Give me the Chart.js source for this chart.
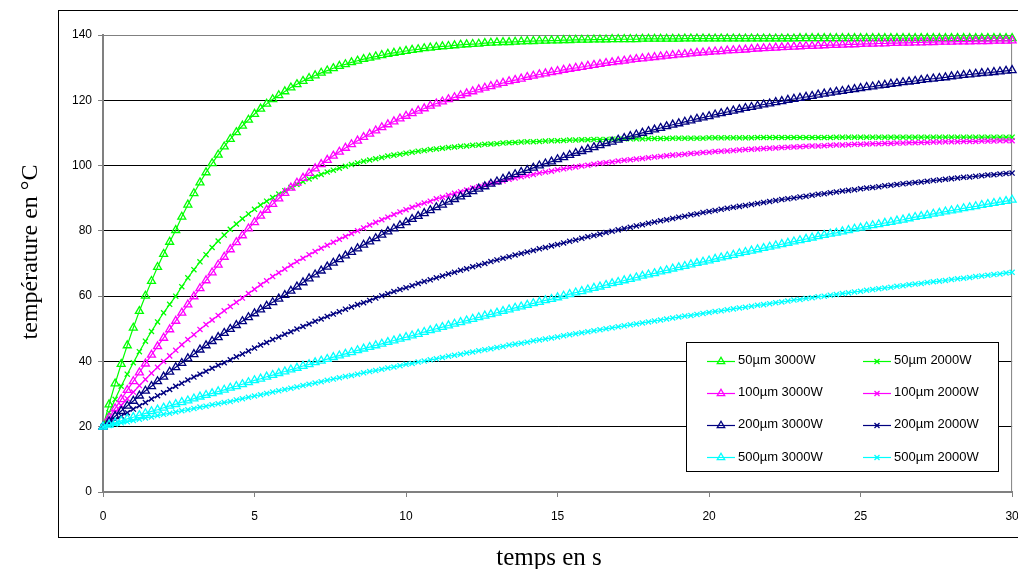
<!DOCTYPE html>
<html>
<head>
<meta charset="utf-8">
<script src="https://cdn.jsdelivr.net/npm/chart.js@4/dist/chart.umd.min.js"></script>
<style>
  body { margin: 0; background: #fff; }
  #wrap { position: relative; width: 1018px; height: 569px; }
</style>
</head>
<body>
<div id="wrap"><canvas id="myChart"></canvas></div>
<script>
// time axis, one sample every 0.2 s
var times = [
  0, 0.2, 0.4, 0.6, 0.8, 1, 1.2, 1.4, 1.6, 1.8,
  2, 2.2, 2.4, 2.6, 2.8, 3, 3.2, 3.4, 3.6, 3.8,
  4, 4.2, 4.4, 4.6, 4.8, 5, 5.2, 5.4, 5.6, 5.8,
  6, 6.2, 6.4, 6.6, 6.8, 7, 7.2, 7.4, 7.6, 7.8,
  8, 8.2, 8.4, 8.6, 8.8, 9, 9.2, 9.4, 9.6, 9.8,
  10, 10.2, 10.4, 10.6, 10.8, 11, 11.2, 11.4, 11.6, 11.8,
  12, 12.2, 12.4, 12.6, 12.8, 13, 13.2, 13.4, 13.6, 13.8,
  14, 14.2, 14.4, 14.6, 14.8, 15, 15.2, 15.4, 15.6, 15.8,
  16, 16.2, 16.4, 16.6, 16.8, 17, 17.2, 17.4, 17.6, 17.8,
  18, 18.2, 18.4, 18.6, 18.8, 19, 19.2, 19.4, 19.6, 19.8,
  20, 20.2, 20.4, 20.6, 20.8, 21, 21.2, 21.4, 21.6, 21.8,
  22, 22.2, 22.4, 22.6, 22.8, 23, 23.2, 23.4, 23.6, 23.8,
  24, 24.2, 24.4, 24.6, 24.8, 25, 25.2, 25.4, 25.6, 25.8,
  26, 26.2, 26.4, 26.6, 26.8, 27, 27.2, 27.4, 27.6, 27.8,
  28, 28.2, 28.4, 28.6, 28.8, 29, 29.2, 29.4, 29.6, 29.8,
  30
];

var seriesNames = ["50µm 3000W", "50µm 2000W", "100µm 3000W", "100µm 2000W",
    "200µm 3000W", "200µm 2000W", "500µm 3000W", "500µm 2000W"];

// temperatures (°C)
var t50_3000 = [
  20, 26.8, 33.2, 39.2, 44.9, 50.3, 55.4, 60.1, 64.6, 68.9,
  72.9, 76.6, 80.2, 84.3, 88.0, 91.5, 94.8, 97.9, 100.7, 103.3,
  105.8, 108.1, 110.2, 112.2, 114.0, 115.8, 117.4, 118.9, 120.3, 121.5,
  122.7, 123.9, 124.9, 125.9, 126.8, 127.6, 128.4, 129.1, 129.8, 130.5,
  131.0, 131.6, 132.1, 132.6, 133.0, 133.4, 133.8, 134.2, 134.5, 134.8,
  135.1, 135.4, 135.6, 135.9, 136.1, 136.3, 136.5, 136.6, 136.8, 137.0,
  137.1, 137.2, 137.3, 137.5, 137.6, 137.7, 137.8, 137.8, 137.9, 138.0,
  138.1, 138.1, 138.2, 138.2, 138.3, 138.3, 138.4, 138.4, 138.5, 138.5,
  138.5, 138.6, 138.6, 138.6, 138.7, 138.7, 138.7, 138.7, 138.7, 138.8,
  138.8, 138.8, 138.8, 138.8, 138.8, 138.8, 138.9, 138.9, 138.9, 138.9,
  138.9, 138.9, 138.9, 138.9, 138.9, 138.9, 138.9, 138.9, 138.9, 138.9,
  138.9, 138.9, 138.9, 138.9, 138.9, 139, 139, 139, 139, 139,
  139, 139, 139, 139, 139, 139, 139, 139, 139, 139,
  139, 139, 139, 139, 139, 139, 139, 139, 139, 139,
  139, 139, 139, 139, 139, 139, 139, 139, 139, 139,
  139
];
var t50_2000 = [
  20, 24.3, 28.4, 32.4, 36.1, 39.6, 43.0, 46.2, 49.2, 52.1,
  54.9, 57.5, 60.0, 62.9, 65.6, 68.1, 70.5, 72.7, 74.9, 76.9,
  78.7, 80.5, 82.1, 83.7, 85.2, 86.6, 87.9, 89.1, 90.2, 91.3,
  92.3, 93.3, 94.2, 95.1, 95.9, 96.6, 97.3, 98.0, 98.6, 99.2,
  99.8, 100.3, 100.8, 101.3, 101.7, 102.1, 102.5, 102.9, 103.2, 103.5,
  103.8, 104.1, 104.4, 104.6, 104.9, 105.1, 105.3, 105.5, 105.7, 105.9,
  106.0, 106.2, 106.3, 106.5, 106.6, 106.7, 106.9, 107.0, 107.1, 107.2,
  107.3, 107.3, 107.4, 107.5, 107.6, 107.6, 107.7, 107.8, 107.8, 107.9,
  107.9, 108.0, 108.0, 108.0, 108.1, 108.1, 108.2, 108.2, 108.2, 108.2,
  108.3, 108.3, 108.3, 108.3, 108.4, 108.4, 108.4, 108.4, 108.4, 108.4,
  108.5, 108.5, 108.5, 108.5, 108.5, 108.5, 108.5, 108.5, 108.6, 108.6,
  108.6, 108.6, 108.6, 108.6, 108.6, 108.6, 108.6, 108.6, 108.6, 108.6,
  108.6, 108.7, 108.7, 108.7, 108.7, 108.7, 108.7, 108.7, 108.7, 108.7,
  108.7, 108.7, 108.7, 108.7, 108.7, 108.7, 108.7, 108.7, 108.7, 108.7,
  108.7, 108.7, 108.7, 108.7, 108.7, 108.7, 108.7, 108.7, 108.7, 108.7,
  108.7
];
var t100_3000 = [
  20, 22.8, 25.6, 28.4, 31.2, 33.9, 36.6, 39.3, 42.0, 44.6,
  47.2, 49.8, 52.4, 54.9, 57.4, 59.9, 62.4, 64.8, 67.2, 69.6,
  72.0, 74.3, 76.5, 78.6, 80.7, 82.6, 84.6, 86.4, 88.2, 89.9,
  91.6, 93.2, 94.7, 96.2, 97.7, 99.1, 100.4, 101.7, 103.0, 104.2,
  105.4, 106.5, 107.6, 108.7, 109.7, 110.7, 111.7, 112.6, 113.5, 114.4,
  115.2, 116.0, 116.8, 117.5, 118.3, 119.0, 119.6, 120.3, 120.9, 121.5,
  122.1, 122.7, 123.3, 123.8, 124.3, 124.8, 125.3, 125.8, 126.2, 126.6,
  127.1, 127.5, 127.9, 128.2, 128.6, 128.9, 129.3, 129.6, 129.9, 130.2,
  130.5, 130.8, 131.1, 131.4, 131.6, 131.9, 132.1, 132.4, 132.6, 132.8,
  133.0, 133.2, 133.4, 133.6, 133.8, 134.0, 134.1, 134.3, 134.5, 134.6,
  134.8, 134.9, 135.0, 135.2, 135.3, 135.4, 135.5, 135.7, 135.8, 135.9,
  136.0, 136.1, 136.2, 136.3, 136.4, 136.5, 136.6, 136.6, 136.7, 136.8,
  136.9, 136.9, 137.0, 137.1, 137.1, 137.2, 137.3, 137.3, 137.4, 137.4,
  137.5, 137.5, 137.6, 137.6, 137.7, 137.7, 137.8, 137.8, 137.9, 137.9,
  137.9, 138.0, 138.0, 138.0, 138.1, 138.1, 138.1, 138.2, 138.2, 138.2,
  138.3
];
var t100_2000 = [
  20, 22.2, 24.4, 26.5, 28.6, 30.6, 32.6, 34.5, 36.4, 38.2,
  40.0, 41.7, 43.4, 45.1, 46.7, 48.2, 49.8, 51.3, 52.7, 54.1,
  55.5, 56.8, 58.1, 59.4, 60.8, 62.1, 63.5, 64.7, 66.0, 67.2,
  68.3, 69.5, 70.6, 71.6, 72.7, 73.7, 74.7, 75.6, 76.5, 77.4,
  78.3, 79.2, 80.0, 80.9, 81.8, 82.6, 83.4, 84.2, 85.0, 85.8,
  86.5, 87.2, 87.9, 88.5, 89.1, 89.8, 90.3, 90.9, 91.5, 92.0,
  92.5, 93.1, 93.5, 94.0, 94.5, 94.9, 95.3, 95.8, 96.2, 96.6,
  96.9, 97.3, 97.7, 98.0, 98.3, 98.7, 99.0, 99.3, 99.6, 99.9,
  100.1, 100.4, 100.7, 100.9, 101.1, 101.4, 101.6, 101.8, 102.0, 102.2,
  102.4, 102.6, 102.8, 103.0, 103.2, 103.3, 103.5, 103.7, 103.8, 104.0,
  104.1, 104.3, 104.4, 104.5, 104.6, 104.8, 104.9, 105.0, 105.1, 105.2,
  105.3, 105.4, 105.5, 105.6, 105.7, 105.8, 105.9, 106.0, 106.0, 106.1,
  106.2, 106.3, 106.3, 106.4, 106.5, 106.5, 106.6, 106.7, 106.7, 106.8,
  106.8, 106.9, 106.9, 107.0, 107.0, 107.1, 107.1, 107.2, 107.2, 107.3,
  107.3, 107.3, 107.4, 107.4, 107.4, 107.5, 107.5, 107.5, 107.6, 107.6,
  107.6
];
var t200_3000 = [
  20, 21.6, 23.2, 24.8, 26.4, 27.9, 29.5, 31.0, 32.4, 33.9,
  35.3, 36.8, 38.2, 39.5, 40.9, 42.2, 43.6, 44.9, 46.2, 47.4,
  48.7, 49.9, 51.1, 52.3, 53.5, 54.7, 55.9, 57.0, 58.1, 59.2,
  60.3, 61.6, 62.9, 64.2, 65.4, 66.6, 67.8, 69.0, 70.2, 71.3,
  72.4, 73.5, 74.6, 75.7, 76.7, 77.7, 78.8, 79.8, 80.7, 81.7,
  82.6, 83.6, 84.5, 85.4, 86.3, 87.2, 88.0, 88.9, 89.7, 90.5,
  91.3, 92.1, 92.9, 93.6, 94.4, 95.1, 95.9, 96.6, 97.3, 98.0,
  98.6, 99.3, 100.0, 100.6, 101.2, 101.9, 102.5, 103.2, 103.8, 104.4,
  105.0, 105.6, 106.2, 106.8, 107.3, 107.9, 108.4, 109.0, 109.5, 110.0,
  110.5, 111.0, 111.5, 112.0, 112.5, 112.9, 113.4, 113.8, 114.3, 114.7,
  115.1, 115.6, 116.0, 116.4, 116.8, 117.2, 117.6, 117.9, 118.3, 118.7,
  119.0, 119.4, 119.7, 120.1, 120.4, 120.7, 121.0, 121.3, 121.7, 122.0,
  122.3, 122.6, 122.8, 123.1, 123.4, 123.7, 124.0, 124.2, 124.5, 124.7,
  125.0, 125.2, 125.5, 125.7, 125.9, 126.2, 126.4, 126.6, 126.8, 127.0,
  127.3, 127.5, 127.7, 127.9, 128.1, 128.3, 128.4, 128.6, 128.8, 129.0,
  129.2
];
var t200_2000 = [
  20, 21.1, 22.2, 23.3, 24.3, 25.4, 26.4, 27.4, 28.5, 29.5,
  30.4, 31.4, 32.4, 33.3, 34.3, 35.2, 36.1, 37.0, 37.9, 38.8,
  39.6, 40.5, 41.4, 42.3, 43.2, 44.1, 45.0, 45.8, 46.7, 47.5,
  48.3, 49.1, 49.9, 50.7, 51.5, 52.3, 53.0, 53.8, 54.5, 55.2,
  56.0, 56.7, 57.4, 58.0, 58.7, 59.4, 60.1, 60.7, 61.4, 62.0,
  62.6, 63.2, 63.9, 64.5, 65.0, 65.6, 66.2, 66.8, 67.3, 67.9,
  68.4, 69.0, 69.5, 70.0, 70.6, 71.1, 71.6, 72.1, 72.6, 73.1,
  73.5, 74.0, 74.5, 74.9, 75.4, 75.8, 76.3, 76.8, 77.2, 77.7,
  78.2, 78.6, 79.0, 79.5, 79.9, 80.3, 80.7, 81.1, 81.5, 81.9,
  82.3, 82.7, 83.1, 83.4, 83.8, 84.2, 84.5, 84.9, 85.2, 85.6,
  85.9, 86.2, 86.6, 86.9, 87.2, 87.5, 87.8, 88.1, 88.4, 88.7,
  89.0, 89.3, 89.6, 89.8, 90.1, 90.4, 90.6, 90.9, 91.2, 91.4,
  91.7, 91.9, 92.2, 92.4, 92.6, 92.9, 93.1, 93.3, 93.5, 93.8,
  94.0, 94.2, 94.4, 94.6, 94.8, 95.0, 95.2, 95.4, 95.6, 95.8,
  96.0, 96.2, 96.4, 96.5, 96.7, 96.9, 97.1, 97.2, 97.4, 97.6,
  97.7
];
var t500_3000 = [
  20, 20.6, 21.2, 21.8, 22.4, 22.9, 23.5, 24.1, 24.7, 25.2,
  25.8, 26.4, 26.9, 27.5, 28.0, 28.6, 29.2, 29.7, 30.2, 30.8,
  31.3, 31.9, 32.4, 33.0, 33.6, 34.2, 34.7, 35.3, 35.8, 36.4,
  36.9, 37.5, 38.0, 38.6, 39.1, 39.7, 40.2, 40.7, 41.3, 41.8,
  42.3, 42.8, 43.4, 43.9, 44.4, 44.9, 45.4, 45.9, 46.4, 46.9,
  47.4, 47.9, 48.4, 49.0, 49.5, 50.0, 50.5, 51.0, 51.5, 52.0,
  52.5, 53.0, 53.5, 54.0, 54.4, 54.9, 55.4, 55.9, 56.4, 56.8,
  57.3, 57.8, 58.2, 58.7, 59.1, 59.6, 60.1, 60.6, 61.1, 61.5,
  62.0, 62.5, 62.9, 63.4, 63.9, 64.3, 64.8, 65.2, 65.7, 66.2,
  66.6, 67.0, 67.5, 67.9, 68.4, 68.8, 69.2, 69.7, 70.1, 70.5,
  70.9, 71.4, 71.8, 72.2, 72.6, 73.1, 73.5, 73.9, 74.3, 74.7,
  75.1, 75.5, 75.9, 76.3, 76.7, 77.1, 77.5, 77.9, 78.3, 78.7,
  79.1, 79.4, 79.8, 80.2, 80.6, 80.9, 81.3, 81.7, 82.0, 82.4,
  82.7, 83.1, 83.4, 83.8, 84.2, 84.5, 84.8, 85.2, 85.5, 85.9,
  86.2, 86.5, 86.9, 87.2, 87.5, 87.9, 88.2, 88.5, 88.8, 89.1,
  89.5
];
var t500_2000 = [
  20, 20.4, 20.8, 21.2, 21.5, 21.9, 22.3, 22.7, 23.0, 23.4,
  23.8, 24.1, 24.5, 24.9, 25.2, 25.6, 26.0, 26.3, 26.7, 27.0,
  27.4, 27.7, 28.2, 28.6, 29.0, 29.4, 29.8, 30.2, 30.6, 31.0,
  31.4, 31.8, 32.2, 32.6, 33.0, 33.4, 33.8, 34.2, 34.6, 35.0,
  35.4, 35.7, 36.1, 36.5, 36.9, 37.2, 37.6, 38.0, 38.3, 38.7,
  39.1, 39.4, 39.8, 40.1, 40.5, 40.8, 41.2, 41.6, 41.9, 42.2,
  42.6, 42.9, 43.3, 43.6, 43.9, 44.3, 44.6, 45.0, 45.3, 45.6,
  45.9, 46.3, 46.6, 46.9, 47.2, 47.5, 47.9, 48.2, 48.5, 48.8,
  49.1, 49.4, 49.7, 50.0, 50.3, 50.6, 50.9, 51.2, 51.5, 51.8,
  52.1, 52.4, 52.7, 53.0, 53.3, 53.6, 53.9, 54.1, 54.4, 54.7,
  55.0, 55.3, 55.5, 55.8, 56.1, 56.4, 56.6, 56.9, 57.2, 57.4,
  57.7, 58.0, 58.2, 58.5, 58.8, 59.0, 59.3, 59.5, 59.8, 60.0,
  60.3, 60.5, 60.8, 61.0, 61.3, 61.5, 61.8, 62.0, 62.3, 62.5,
  62.7, 63.0, 63.2, 63.5, 63.7, 63.9, 64.2, 64.4, 64.6, 64.8,
  65.1, 65.3, 65.5, 65.7, 66.0, 66.2, 66.4, 66.6, 66.8, 67.1,
  67.3
];

var seriesValues = [t50_3000, t50_2000, t100_3000, t100_2000, t200_3000, t200_2000, t500_3000, t500_2000];
var seriesColors = ["#00ff00", "#00ff00", "#ff00ff", "#ff00ff", "#000080", "#000080", "#00ffff", "#00ffff"];
var seriesMarkers = ["triangle", "crossRot", "triangle", "crossRot", "triangle", "crossRot", "triangle", "crossRot"];

var xTitle = "temps en s";
var yTitle = "température en °C";

function points(vals){
    return vals.map(function (v, i){
        return {x: times[i], y: v};
    });
}

var datasets = seriesValues.map(function (vals, i){
    var tri = seriesMarkers[i] === "triangle";
    return {
        label: seriesNames[i],
        data: points(vals),
        borderColor: seriesColors[i],
        borderWidth: 1.2,
        backgroundColor: "rgba(0,0,0,0)",
        pointStyle: seriesMarkers[i],
        pointRadius: tri ? 4.6 : 3.6,
        pointBorderWidth: 1.3,
        pointBorderColor: seriesColors[i],
        pointBackgroundColor: "rgba(0,0,0,0)",
        tension: 0,
        clip: false,
        order: 7 - i
    };
});

// Frame, plot border, titles
var decorPlugin = {
    id: "decor",
    beforeDraw: function (chart){
        var ctx = chart.ctx;
        ctx.save();
        ctx.fillStyle = "#fff";
        ctx.fillRect(0, 0, chart.width, chart.height);
        ctx.strokeStyle = "#000";
        ctx.lineWidth = 1;
        ctx.strokeRect(58.5, 10.5, 1010, 527);
        ctx.restore();
    },
    beforeDatasetsDraw: function (chart){
        var a = chart.chartArea, ctx = chart.ctx;
        ctx.save();
        ctx.strokeStyle = "#808080";
        ctx.lineWidth = 1;
        ctx.beginPath();
        ctx.moveTo(a.left, a.top + 0.5);
        ctx.lineTo(a.right - 0.5, a.top + 0.5);
        ctx.lineTo(a.right - 0.5, a.bottom);
        ctx.stroke();
        ctx.restore();
    },
    afterDraw: function (chart){
        var ctx = chart.ctx;
        ctx.save();
        ctx.fillStyle = "#000";
        ctx.textAlign = "center";
        ctx.font = '24px "Liberation Serif", "Times New Roman", serif';
        ctx.translate(31, 252);
        ctx.rotate(-Math.PI / 2);
        ctx.textBaseline = "middle";
        ctx.fillText(yTitle, 0, 0);
        ctx.restore();

        ctx.save();
        ctx.fillStyle = "#000";
        ctx.textAlign = "center";
        ctx.textBaseline = "alphabetic";
        ctx.font = '25px "Liberation Serif", "Times New Roman", serif';
        ctx.fillText(xTitle, 549, 565);
        ctx.restore();
    }
};

// Boxed two-column legend, drawn inside the plot
function drawMarker(ctx, style, x, y, color){
    ctx.strokeStyle = color;
    ctx.lineWidth = 1.3;
    ctx.beginPath();
    if (style === "triangle"){
        var r = 4.3;
        ctx.moveTo(x, y - r);
        ctx.lineTo(x + r * 0.866, y + r * 0.5);
        ctx.lineTo(x - r * 0.866, y + r * 0.5);
        ctx.closePath();
    }else{
        var d = 2.5;
        ctx.moveTo(x - d, y - d); ctx.lineTo(x + d, y + d);
        ctx.moveTo(x + d, y - d); ctx.lineTo(x - d, y + d);
    }
    ctx.stroke();
}

var legendBoxPlugin = {
    id: "legendBox",
    afterDraw: function (chart){
        var ctx = chart.ctx;
        var bx = 686, by = 342, bw = 312, bh = 129;
        ctx.save();
        ctx.fillStyle = "#fff";
        ctx.fillRect(bx, by, bw, bh);
        ctx.strokeStyle = "#000";
        ctx.lineWidth = 1;
        ctx.strokeRect(bx + 0.5, by + 0.5, bw, bh);
        ctx.font = '13px "Liberation Sans", Arial, sans-serif';
        ctx.textBaseline = "middle";
        ctx.textAlign = "left";
        chart.data.datasets.forEach(function (ds, i){
            var col = i % 2, row = Math.floor(i / 2);
            var x0 = col ? 863 : 707;
            var y = 360.5 + row * 32.2;
            var yy = Math.round(y) + 0.5;
            ctx.strokeStyle = ds.borderColor;
            ctx.lineWidth = 1.2;
            ctx.beginPath();
            ctx.moveTo(x0, yy);
            ctx.lineTo(x0 + 28, yy);
            ctx.stroke();
            drawMarker(ctx, ds.pointStyle, x0 + 14, yy, ds.borderColor);
            ctx.fillStyle = "#000";
            ctx.fillText(ds.label, x0 + 31, y);
        });
        ctx.restore();
    }
};

var tickFont = {family: '"Liberation Sans", Arial, sans-serif', size: 12};

new Chart("myChart", {
    type: "line",
    data: {datasets: datasets},
    options: {
        responsive: true,
        maintainAspectRatio: false,
        devicePixelRatio: 1,
        animation: false,
        events: [],
        layout: {
            padding: {top: 35, right: 4, left: 0, bottom: 0}
        },
        plugins: {
            legend: {display: false},
            tooltip: {enabled: false}
        },
        scales: {
            x: {
                type: "linear",
                min: 0,
                max: 30,
                ticks: {stepSize: 5, color: "#000", font: tickFont, padding: 12, maxRotation: 0},
                grid: {drawOnChartArea: false, tickColor: "#808080", tickLength: 5},
                border: {color: "#808080", width: 2},
                afterFit: function (scale){
                    scale.height = 77;
                    scale.paddingLeft = 0;
                    scale.paddingRight = 0;
                }
            },
            y: {
                min: 0,
                max: 140,
                ticks: {stepSize: 20, color: "#000", font: tickFont, padding: 6},
                grid: {
                    color: function (c){
                        var v = c.tick ? c.tick.value : 0;
                        return (v === 0 || v === 140) ? "rgba(0,0,0,0)" : "#000";
                    },
                    tickColor: "#808080",
                    tickLength: 5
                },
                border: {color: "#808080", width: 2},
                afterFit: function (scale){
                    scale.width = 103;
                }
            }
        }
    },
    plugins: [decorPlugin, legendBoxPlugin]
});
</script>
</body>
</html>
